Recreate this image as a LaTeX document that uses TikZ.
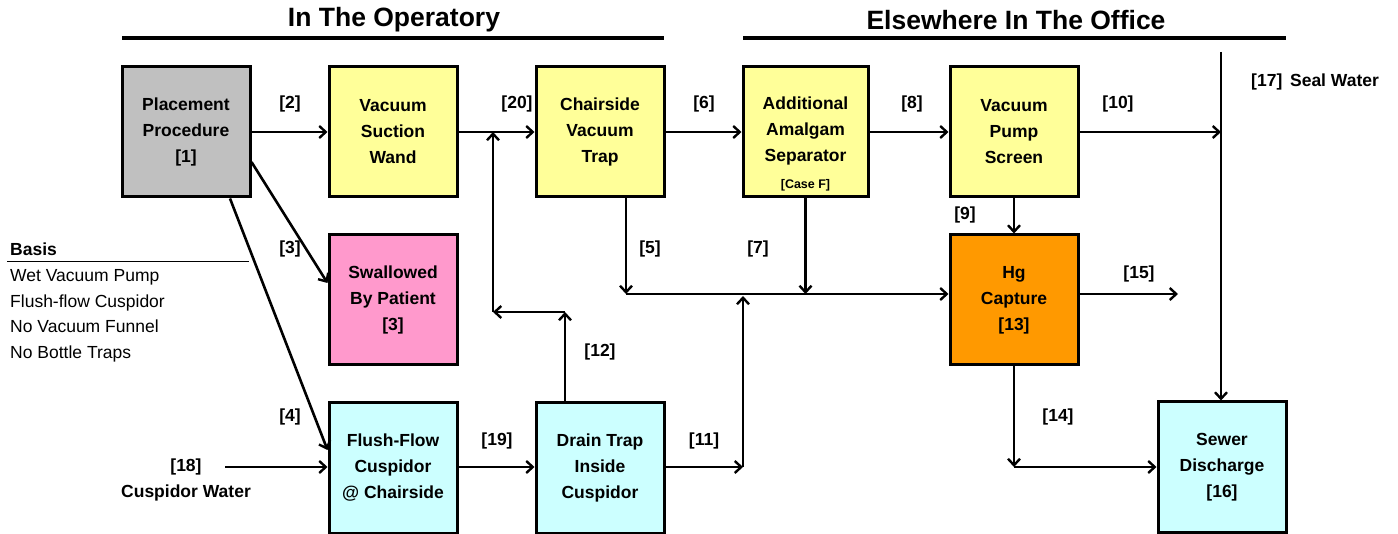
\documentclass[tikz,border=0pt]{standalone}
\usepackage{fontspec}
\setmainfont{Liberation Sans}
\usetikzlibrary{arrows.meta,calc}
\definecolor{cgray}{HTML}{C0C0C0}
\definecolor{cyel}{HTML}{FFFF99}
\definecolor{cpink}{HTML}{FF99CC}
\definecolor{ccyan}{HTML}{CCFFFF}
\definecolor{corange}{HTML}{FF9900}
\begin{document}
\begin{tikzpicture}[x=1pt,y=-1pt,
  box/.style={draw=black,line width=3pt,minimum width=128pt,minimum height=130pt,inner sep=0pt,align=center,
    font=\fontsize{17.5}{26}\selectfont\bfseries},
  lbl/.style={font=\fontsize{17.5}{21}\selectfont\bfseries,inner sep=0pt},
  plain/.style={font=\fontsize{17.5}{21}\selectfont,inner sep=0pt,anchor=base west},
  hdr/.style={font=\fontsize{26.5}{30}\selectfont\bfseries,inner sep=0pt},
  arr/.style={line width=2.6pt,-{Straight Barb[length=6.5pt,width=12pt,line width=2.4pt]}},
  ln/.style={line width=2.6pt}]
\useasboundingbox (0,0) rectangle (1398,534);
% headers
\node[hdr] (h1) at (394,20) {In The Operatory};
\node[hdr] (h2) at (1016,20) {Elsewhere In The Office};
\draw[line width=4pt] (122,38) -- (664,38);
\draw[line width=4pt] (743,38) -- (1286,38);
% boxes
\node[box,fill=cgray] (place) at (186,132) {Placement\\Procedure\\{[1]}};
\node[box,fill=cyel] (wand) at (393,132) {Vacuum\\Suction\\Wand};
\node[box,fill=cyel] (trap) at (600,132) {Chairside\\Vacuum\\Trap};
\node[box,fill=cyel,minimum width=125pt] (sep) at (805.5,132) {};
\node[font=\fontsize{17.5}{26}\selectfont\bfseries,align=center,inner sep=0pt] (septxt) at (805.5,131) {Additional\\Amalgam\\Separator};
\node[font=\fontsize{12.5}{14}\selectfont\bfseries,inner sep=0pt,anchor=base] (sepcase) at (805.5,189) {[Case F]};
\node[box,fill=cyel] (pump) at (1014,132) {Vacuum\\Pump\\Screen};
\node[box,fill=cpink] (swal) at (393,300) {Swallowed\\By Patient\\{[3]}};
\node[box,fill=corange] (hg) at (1014,300) {Hg\\Capture\\{[13]}};
\node[box,fill=ccyan] (flush) at (393,468) {Flush-Flow\\Cuspidor\\@ Chairside};
\node[box,fill=ccyan] (drain) at (600,468) {Drain Trap\\Inside\\Cuspidor};
\node[box,fill=ccyan] (sewer) at (1222,467) {Sewer\\Discharge\\{[16]}};
% basis
\node[plain,font=\fontsize{17.5}{21}\selectfont\bfseries] (basis) at (10,256) {Basis};
\draw[line width=1pt] (7,262) -- (249,262);
\node[plain] (b1) at (10,282) {Wet Vacuum Pump};
\node[plain] (b2) at (10,307.5) {Flush-flow Cuspidor};
\node[plain] (b3) at (10,333) {No Vacuum Funnel};
\node[plain] (b4) at (10,358.5) {No Bottle Traps};
% coordinates
\coordinate (cw) at (225,467);
\coordinate (sw) at (1221,52);
\coordinate (jn) at (626,294);
\coordinate (j11) at (743,467);
\coordinate (j12a) at (565,312);
\coordinate (j12b) at (493,312);
\coordinate (e15) at (1178,294);
% connectors
\draw[arr] (place.east) -- (wand.west);
\draw[arr] ([yshift=-30pt]place.east) -- ([yshift=17pt]swal.west);
\draw[arr] ([xshift=44pt]place.south) -- ([yshift=18pt]flush.west);
\draw[arr] (cw) -- (cw -| flush.west);
\draw[arr] (flush.east |- cw) -- (drain.west |- cw);
\draw[arr] (wand.east) -- (trap.west);
\draw[arr] (trap.east) -- (sep.west);
\draw[arr] (sep.east) -- (pump.west);
\draw[arr] (pump.east) -- (pump.east -| sw);
\draw[arr] (sw) -- (sw |- sewer.north);
\draw[arr] (pump.south) -- (hg.north);
\draw[arr] (trap.south -| jn) -- (jn);
\draw[arr] (jn) -- (jn -| hg.west);
\draw[arr] (sep.south) -- (sep.south |- jn);
\draw[arr] (drain.east |- j11) -- (j11);
\draw[arr] (j11) -- ([yshift=-2pt]j11 |- jn);
\draw[arr] (drain.north -| j12a) -- (j12a);
\draw[arr] (j12a) -- (j12b);
\draw[arr] (j12b) -- (j12b |- wand.east);
\draw[arr] (hg.east |- e15) -- (e15);
\draw[arr] (hg.south) -- (hg.south |- sewer.west);
\draw[arr] (hg.south |- sewer.west) -- (sewer.west);
% labels
\node[lbl] (l2) at (290,104) {[2]};
\node[lbl] (l20) at (517,104) {[20]};
\node[lbl] (l6) at (704,104) {[6]};
\node[lbl] (l8) at (912,104) {[8]};
\node[lbl] (l10) at (1118,104) {[10]};
\node[lbl,anchor=west] (l17) at (1251,82) {[17]\, Seal Water};
\node[lbl] (l3) at (290,249) {[3]};
\node[lbl] (l5) at (650,249) {[5]};
\node[lbl] (l7) at (758,249) {[7]};
\node[lbl] (l9) at (965,215) {[9]};
\node[lbl] (l15) at (1139,274) {[15]};
\node[lbl] (l12) at (600,352) {[12]};
\node[lbl] (l4) at (290,417) {[4]};
\node[lbl] (l19) at (497,441) {[19]};
\node[lbl] (l11) at (704,441) {[11]};
\node[lbl] (l14) at (1058,417) {[14]};
\node[lbl] (l18) at (186,467) {[18]};
\node[lbl] (lcw) at (186,493) {Cuspidor Water};
\end{tikzpicture}
\end{document}
